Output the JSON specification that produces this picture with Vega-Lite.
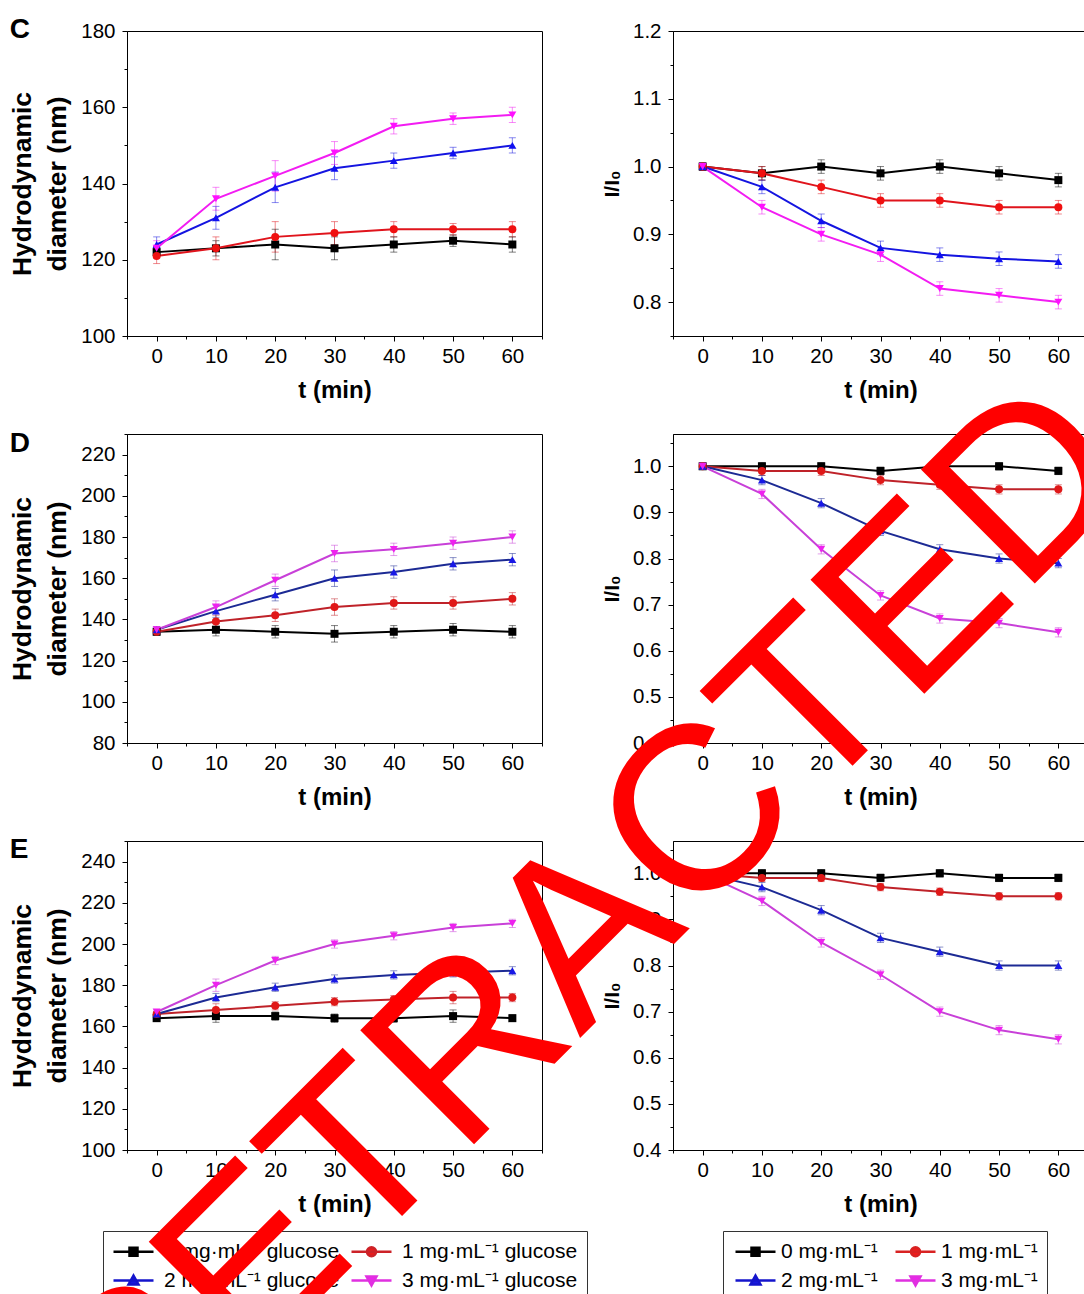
{
"$schema": "https://vega.github.io/schema/vega-lite/v6.json",
"padding": {"left": -4, "top": 15, "right": 0, "bottom": 0},
"background": "white",
"columns": 2,
"spacing": {"row": 98, "column": 131},
"bounds": "flush",
"resolve": {"scale": {"color": "independent", "fill": "independent", "stroke": "independent", "shape": "independent"}},
"datasets": {
"Cd": [
{"t":0,"s":"0","v":122,"e":1.5},{"t":10,"s":"0","v":123,"e":2},{"t":20,"s":"0","v":124,"e":4},{"t":30,"s":"0","v":123,"e":3},{"t":40,"s":"0","v":124,"e":2},{"t":50,"s":"0","v":125,"e":1.5},{"t":60,"s":"0","v":124,"e":2},
{"t":0,"s":"1","v":121,"e":2},{"t":10,"s":"1","v":123,"e":3},{"t":20,"s":"1","v":126,"e":4},{"t":30,"s":"1","v":127,"e":3},{"t":40,"s":"1","v":128,"e":2},{"t":50,"s":"1","v":128,"e":1.5},{"t":60,"s":"1","v":128,"e":2},
{"t":0,"s":"2","v":124,"e":2},{"t":10,"s":"2","v":131,"e":3},{"t":20,"s":"2","v":139,"e":4},{"t":30,"s":"2","v":144,"e":3},{"t":40,"s":"2","v":146,"e":2},{"t":50,"s":"2","v":148,"e":1.5},{"t":60,"s":"2","v":150,"e":2},
{"t":0,"s":"3","v":123,"e":2},{"t":10,"s":"3","v":136,"e":3},{"t":20,"s":"3","v":142,"e":4},{"t":30,"s":"3","v":148,"e":3},{"t":40,"s":"3","v":155,"e":2},{"t":50,"s":"3","v":157,"e":1.5},{"t":60,"s":"3","v":158,"e":2}
],
"Ci": [
{"t":0,"s":"0","v":1.0,"e":0.005},{"t":10,"s":"0","v":0.99,"e":0.01},{"t":20,"s":"0","v":1.0,"e":0.01},{"t":30,"s":"0","v":0.99,"e":0.01},{"t":40,"s":"0","v":1.0,"e":0.01},{"t":50,"s":"0","v":0.99,"e":0.01},{"t":60,"s":"0","v":0.98,"e":0.01},
{"t":0,"s":"1","v":1.0,"e":0.005},{"t":10,"s":"1","v":0.99,"e":0.01},{"t":20,"s":"1","v":0.97,"e":0.01},{"t":30,"s":"1","v":0.95,"e":0.01},{"t":40,"s":"1","v":0.95,"e":0.01},{"t":50,"s":"1","v":0.94,"e":0.01},{"t":60,"s":"1","v":0.94,"e":0.01},
{"t":0,"s":"2","v":1.0,"e":0.005},{"t":10,"s":"2","v":0.97,"e":0.01},{"t":20,"s":"2","v":0.92,"e":0.01},{"t":30,"s":"2","v":0.88,"e":0.01},{"t":40,"s":"2","v":0.87,"e":0.01},{"t":50,"s":"2","v":0.864,"e":0.01},{"t":60,"s":"2","v":0.86,"e":0.01},
{"t":0,"s":"3","v":1.0,"e":0.005},{"t":10,"s":"3","v":0.94,"e":0.01},{"t":20,"s":"3","v":0.90,"e":0.01},{"t":30,"s":"3","v":0.87,"e":0.01},{"t":40,"s":"3","v":0.82,"e":0.01},{"t":50,"s":"3","v":0.81,"e":0.01},{"t":60,"s":"3","v":0.80,"e":0.01}
],
"Dd": [
{"t":0,"s":"0","v":134,"e":1.5},{"t":10,"s":"0","v":135,"e":3},{"t":20,"s":"0","v":134,"e":3},{"t":30,"s":"0","v":133,"e":4},{"t":40,"s":"0","v":134,"e":3},{"t":50,"s":"0","v":135,"e":3},{"t":60,"s":"0","v":134,"e":3},
{"t":0,"s":"1","v":134,"e":1.5},{"t":10,"s":"1","v":139,"e":3},{"t":20,"s":"1","v":142,"e":3},{"t":30,"s":"1","v":146,"e":4},{"t":40,"s":"1","v":148,"e":3},{"t":50,"s":"1","v":148,"e":3},{"t":60,"s":"1","v":150,"e":3},
{"t":0,"s":"2","v":135,"e":1.5},{"t":10,"s":"2","v":144,"e":3},{"t":20,"s":"2","v":152,"e":3},{"t":30,"s":"2","v":160,"e":4},{"t":40,"s":"2","v":163,"e":3},{"t":50,"s":"2","v":167,"e":3},{"t":60,"s":"2","v":169,"e":3},
{"t":0,"s":"3","v":135,"e":1.5},{"t":10,"s":"3","v":146,"e":3},{"t":20,"s":"3","v":159,"e":3},{"t":30,"s":"3","v":172,"e":4},{"t":40,"s":"3","v":174,"e":3},{"t":50,"s":"3","v":177,"e":3},{"t":60,"s":"3","v":180,"e":3}
],
"Di": [
{"t":0,"s":"0","v":1.0,"e":0.005},{"t":10,"s":"0","v":1.0,"e":0.008},{"t":20,"s":"0","v":1.0,"e":0.008},{"t":30,"s":"0","v":0.99,"e":0.008},{"t":40,"s":"0","v":1.0,"e":0.008},{"t":50,"s":"0","v":1.0,"e":0.008},{"t":60,"s":"0","v":0.99,"e":0.008},
{"t":0,"s":"1","v":1.0,"e":0.005},{"t":10,"s":"1","v":0.99,"e":0.01},{"t":20,"s":"1","v":0.99,"e":0.01},{"t":30,"s":"1","v":0.97,"e":0.01},{"t":40,"s":"1","v":0.96,"e":0.01},{"t":50,"s":"1","v":0.95,"e":0.01},{"t":60,"s":"1","v":0.95,"e":0.01},
{"t":0,"s":"2","v":1.0,"e":0.005},{"t":10,"s":"2","v":0.97,"e":0.01},{"t":20,"s":"2","v":0.92,"e":0.01},{"t":30,"s":"2","v":0.86,"e":0.01},{"t":40,"s":"2","v":0.82,"e":0.01},{"t":50,"s":"2","v":0.80,"e":0.01},{"t":60,"s":"2","v":0.79,"e":0.01},
{"t":0,"s":"3","v":1.0,"e":0.005},{"t":10,"s":"3","v":0.94,"e":0.01},{"t":20,"s":"3","v":0.82,"e":0.01},{"t":30,"s":"3","v":0.72,"e":0.01},{"t":40,"s":"3","v":0.67,"e":0.01},{"t":50,"s":"3","v":0.66,"e":0.01},{"t":60,"s":"3","v":0.64,"e":0.01}
],
"Ed": [
{"t":0,"s":"0","v":164,"e":1},{"t":10,"s":"0","v":165,"e":3},{"t":20,"s":"0","v":165,"e":2},{"t":30,"s":"0","v":164,"e":2},{"t":40,"s":"0","v":164,"e":2},{"t":50,"s":"0","v":165,"e":3},{"t":60,"s":"0","v":164,"e":1.5},
{"t":0,"s":"1","v":166,"e":1},{"t":10,"s":"1","v":168,"e":3},{"t":20,"s":"1","v":170,"e":2},{"t":30,"s":"1","v":172,"e":2},{"t":40,"s":"1","v":173,"e":2},{"t":50,"s":"1","v":174,"e":3},{"t":60,"s":"1","v":174,"e":2},
{"t":0,"s":"2","v":166,"e":1},{"t":10,"s":"2","v":174,"e":2},{"t":20,"s":"2","v":179,"e":2},{"t":30,"s":"2","v":183,"e":2},{"t":40,"s":"2","v":185,"e":2},{"t":50,"s":"2","v":186,"e":2},{"t":60,"s":"2","v":187,"e":2},
{"t":0,"s":"3","v":167,"e":1},{"t":10,"s":"3","v":180,"e":3},{"t":20,"s":"3","v":192,"e":2},{"t":30,"s":"3","v":200,"e":2},{"t":40,"s":"3","v":204,"e":2},{"t":50,"s":"3","v":208,"e":2},{"t":60,"s":"3","v":210,"e":2}
],
"Ei": [
{"t":0,"s":"0","v":1.0,"e":0.005},{"t":10,"s":"0","v":1.0,"e":0.008},{"t":20,"s":"0","v":1.0,"e":0.008},{"t":30,"s":"0","v":0.99,"e":0.008},{"t":40,"s":"0","v":1.0,"e":0.008},{"t":50,"s":"0","v":0.99,"e":0.008},{"t":60,"s":"0","v":0.99,"e":0.008},
{"t":0,"s":"1","v":1.0,"e":0.005},{"t":10,"s":"1","v":0.99,"e":0.008},{"t":20,"s":"1","v":0.99,"e":0.008},{"t":30,"s":"1","v":0.97,"e":0.008},{"t":40,"s":"1","v":0.96,"e":0.008},{"t":50,"s":"1","v":0.95,"e":0.008},{"t":60,"s":"1","v":0.95,"e":0.008},
{"t":0,"s":"2","v":1.0,"e":0.005},{"t":10,"s":"2","v":0.97,"e":0.01},{"t":20,"s":"2","v":0.92,"e":0.01},{"t":30,"s":"2","v":0.86,"e":0.01},{"t":40,"s":"2","v":0.83,"e":0.01},{"t":50,"s":"2","v":0.80,"e":0.01},{"t":60,"s":"2","v":0.80,"e":0.01},
{"t":0,"s":"3","v":1.0,"e":0.005},{"t":10,"s":"3","v":0.94,"e":0.01},{"t":20,"s":"3","v":0.85,"e":0.01},{"t":30,"s":"3","v":0.78,"e":0.01},{"t":40,"s":"3","v":0.70,"e":0.01},{"t":50,"s":"3","v":0.66,"e":0.01},{"t":60,"s":"3","v":0.64,"e":0.01}
],
"wm": [{"x": -11.4, "y": 0.762, "label": "RETRACTED"}]
},
"concat": [
{
"width": 415, "height": 305,
"data": {"name": "Cd"},
"title": {"text": "C", "anchor": "start", "frame": "bounds", "fontSize": 28, "fontWeight": "bold", "offset": 0, "dy": 45, "baseline": "alphabetic"},
"encoding": {
"x": {"field": "t", "type": "quantitative", "scale": {"domain": [-5, 65], "nice": false, "zero": false}, "axis": {"title": "t (min)", "values": [-5,0,5,10,15,20,25,30,35,40,45,50,55,60,65], "labelExpr": "datum.value % 10 == 0 ? datum.label : ''", "tickSize": {"condition": {"test": "datum.value % 10 != 0", "value": 3}, "value": 5}, "labelPadding": 5, "titlePadding": 12}},
"y": {"field": "v", "type": "quantitative", "scale": {"domain": [100, 180], "nice": false, "zero": false}, "axis": {"title": ["Hydrodynamic", "diameter (nm)"], "titleFontSize": 26.5, "titleLineHeight": 35, "values": [100,110,120,130,140,150,160,170,180], "labelExpr": "datum.value % 20 == 0 ? datum.label : ''", "tickSize": {"condition": {"test": "datum.value % 20 != 0", "value": 3}, "value": 5}, "labelPadding": 7, "titlePadding": 9}}
},
"layer": [
{"mark": {"type": "errorbar", "ticks": true, "size": 7, "thickness": 1, "opacity": 0.5}, "encoding": {"yError": {"field": "e"}, "color": {"field": "s", "type": "nominal", "scale": {"domain": ["0","1","2","3"], "range": ["#000000", "#e0141c", "#1414e0", "#f21cf2"]}, "legend": null}}},
{"mark": {"type": "line", "strokeWidth": 2}, "encoding": {"stroke": {"field": "s", "type": "nominal", "scale": {"domain": ["0","1","2","3"], "range": ["#000000", "#e0141c", "#1414e0", "#f21cf2"]}, "legend": null}}},
{"mark": {"type": "point", "filled": true, "size": 64, "opacity": 1}, "encoding": {"fill": {"field": "s", "type": "nominal", "scale": {"domain": ["0","1","2","3"], "range": ["#000000", "#f01010", "#1010f0", "#ff10ff"]}, "legend": null}, "shape": {"field": "s", "type": "nominal", "scale": {"domain": ["0","1","2","3"], "range": ["square", "circle", "triangle-up", "triangle-down"]}, "legend": null}}}
]
},
{
"width": 415, "height": 305,
"data": {"name": "Ci"},
"encoding": {
"x": {"field": "t", "type": "quantitative", "scale": {"domain": [-5, 65], "nice": false, "zero": false}, "axis": {"title": "t (min)", "values": [-5,0,5,10,15,20,25,30,35,40,45,50,55,60,65], "labelExpr": "datum.value % 10 == 0 ? datum.label : ''", "tickSize": {"condition": {"test": "datum.value % 10 != 0", "value": 3}, "value": 5}, "labelPadding": 5, "titlePadding": 12}},
"y": {"field": "v", "type": "quantitative", "scale": {"domain": [0.75, 1.2], "nice": false, "zero": false}, "axis": {"title": "I/I₀", "titleFontSize": 21, "format": ".1f", "values": [0.75,0.8,0.85,0.9,0.95,1.0,1.05,1.1,1.15,1.2], "labelExpr": "round(datum.value*100) % 10 == 0 ? datum.label : ''", "tickSize": {"condition": {"test": "round(datum.value*100) % 10 != 0", "value": 3}, "value": 5}, "labelPadding": 7, "titlePadding": 10}}
},
"layer": [
{"mark": {"type": "errorbar", "ticks": true, "size": 7, "thickness": 1, "opacity": 0.5}, "encoding": {"yError": {"field": "e"}, "color": {"field": "s", "type": "nominal", "scale": {"domain": ["0","1","2","3"], "range": ["#000000", "#e0141c", "#1414e0", "#f21cf2"]}, "legend": null}}},
{"mark": {"type": "line", "strokeWidth": 2}, "encoding": {"stroke": {"field": "s", "type": "nominal", "scale": {"domain": ["0","1","2","3"], "range": ["#000000", "#e0141c", "#1414e0", "#f21cf2"]}, "legend": null}}},
{"mark": {"type": "point", "filled": true, "size": 64, "opacity": 1}, "encoding": {"fill": {"field": "s", "type": "nominal", "scale": {"domain": ["0","1","2","3"], "range": ["#000000", "#f01010", "#1010f0", "#ff10ff"]}, "legend": null}, "shape": {"field": "s", "type": "nominal", "scale": {"domain": ["0","1","2","3"], "range": ["square", "circle", "triangle-up", "triangle-down"]}, "legend": null}}}
]
},
{
"width": 415, "height": 309,
"data": {"name": "Dd"},
"title": {"text": "D", "anchor": "start", "frame": "bounds", "fontSize": 28, "fontWeight": "bold", "offset": 0, "dy": 56, "baseline": "alphabetic"},
"encoding": {
"x": {"field": "t", "type": "quantitative", "scale": {"domain": [-5, 65], "nice": false, "zero": false}, "axis": {"title": "t (min)", "values": [-5,0,5,10,15,20,25,30,35,40,45,50,55,60,65], "labelExpr": "datum.value % 10 == 0 ? datum.label : ''", "tickSize": {"condition": {"test": "datum.value % 10 != 0", "value": 3}, "value": 5}, "labelPadding": 5, "titlePadding": 12}},
"y": {"field": "v", "type": "quantitative", "scale": {"domain": [80, 230], "nice": false, "zero": false}, "axis": {"title": ["Hydrodynamic", "diameter (nm)"], "titleFontSize": 26.5, "titleLineHeight": 35, "values": [80,90,100,110,120,130,140,150,160,170,180,190,200,210,220,230], "labelExpr": "datum.value % 20 == 0 ? datum.label : ''", "tickSize": {"condition": {"test": "datum.value % 20 != 0", "value": 3}, "value": 5}, "labelPadding": 7, "titlePadding": 9}}
},
"layer": [
{"mark": {"type": "errorbar", "ticks": true, "size": 7, "thickness": 1, "opacity": 0.5}, "encoding": {"yError": {"field": "e"}, "color": {"field": "s", "type": "nominal", "scale": {"domain": ["0","1","2","3"], "range": ["#000000", "#bf2229", "#1c2a94", "#c840d8"]}, "legend": null}}},
{"mark": {"type": "line", "strokeWidth": 2}, "encoding": {"stroke": {"field": "s", "type": "nominal", "scale": {"domain": ["0","1","2","3"], "range": ["#000000", "#bf2229", "#1c2a94", "#c840d8"]}, "legend": null}}},
{"mark": {"type": "point", "filled": true, "size": 64, "opacity": 1}, "encoding": {"fill": {"field": "s", "type": "nominal", "scale": {"domain": ["0","1","2","3"], "range": ["#000000", "#e01818", "#1818e6", "#ee22ee"]}, "legend": null}, "shape": {"field": "s", "type": "nominal", "scale": {"domain": ["0","1","2","3"], "range": ["square", "circle", "triangle-up", "triangle-down"]}, "legend": null}}}
]
},
{
"width": 415, "height": 309,
"data": {"name": "Di"},
"encoding": {
"x": {"field": "t", "type": "quantitative", "scale": {"domain": [-5, 65], "nice": false, "zero": false}, "axis": {"title": "t (min)", "values": [-5,0,5,10,15,20,25,30,35,40,45,50,55,60,65], "labelExpr": "datum.value % 10 == 0 ? datum.label : ''", "tickSize": {"condition": {"test": "datum.value % 10 != 0", "value": 3}, "value": 5}, "labelPadding": 5, "titlePadding": 12}},
"y": {"field": "v", "type": "quantitative", "scale": {"domain": [0.4, 1.07], "nice": false, "zero": false}, "axis": {"title": "I/I₀", "titleFontSize": 21, "format": ".1f", "values": [0.4,0.45,0.5,0.55,0.6,0.65,0.7,0.75,0.8,0.85,0.9,0.95,1.0,1.05], "labelExpr": "round(datum.value*100) % 10 == 0 ? datum.label : ''", "tickSize": {"condition": {"test": "round(datum.value*100) % 10 != 0", "value": 3}, "value": 5}, "labelPadding": 7, "titlePadding": 10}}
},
"layer": [
{"mark": {"type": "errorbar", "ticks": true, "size": 7, "thickness": 1, "opacity": 0.5}, "encoding": {"yError": {"field": "e"}, "color": {"field": "s", "type": "nominal", "scale": {"domain": ["0","1","2","3"], "range": ["#000000", "#bf2229", "#1c2a94", "#c840d8"]}, "legend": null}}},
{"mark": {"type": "line", "strokeWidth": 2}, "encoding": {"stroke": {"field": "s", "type": "nominal", "scale": {"domain": ["0","1","2","3"], "range": ["#000000", "#bf2229", "#1c2a94", "#c840d8"]}, "legend": null}}},
{"mark": {"type": "point", "filled": true, "size": 64, "opacity": 1}, "encoding": {"fill": {"field": "s", "type": "nominal", "scale": {"domain": ["0","1","2","3"], "range": ["#000000", "#e01818", "#1818e6", "#ee22ee"]}, "legend": null}, "shape": {"field": "s", "type": "nominal", "scale": {"domain": ["0","1","2","3"], "range": ["square", "circle", "triangle-up", "triangle-down"]}, "legend": null}}}
]
},
{
"width": 415, "height": 309,
"data": {"name": "Ed"},
"title": {"text": "E", "anchor": "start", "frame": "bounds", "fontSize": 28, "fontWeight": "bold", "offset": 0, "dy": 55, "baseline": "alphabetic"},
"resolve": {"scale": {"color": "independent", "fill": "independent", "stroke": "independent", "shape": "independent"}},
"encoding": {
"x": {"field": "t", "type": "quantitative", "scale": {"domain": [-5, 65], "nice": false, "zero": false}, "axis": {"title": "t (min)", "values": [-5,0,5,10,15,20,25,30,35,40,45,50,55,60,65], "labelExpr": "datum.value % 10 == 0 ? datum.label : ''", "tickSize": {"condition": {"test": "datum.value % 10 != 0", "value": 3}, "value": 5}, "labelPadding": 5, "titlePadding": 12}},
"y": {"field": "v", "type": "quantitative", "scale": {"domain": [100, 250], "nice": false, "zero": false}, "axis": {"title": ["Hydrodynamic", "diameter (nm)"], "titleFontSize": 26.5, "titleLineHeight": 35, "values": [100,110,120,130,140,150,160,170,180,190,200,210,220,230,240,250], "labelExpr": "datum.value % 20 == 0 ? datum.label : ''", "tickSize": {"condition": {"test": "datum.value % 20 != 0", "value": 3}, "value": 5}, "labelPadding": 7, "titlePadding": 9}}
},
"layer": [
{"mark": {"type": "errorbar", "ticks": true, "size": 7, "thickness": 1, "opacity": 0.5}, "encoding": {"yError": {"field": "e"}, "color": {"field": "s", "type": "nominal", "scale": {"domain": ["0","1","2","3"], "range": ["#000000", "#bf2229", "#1c2a94", "#c840d8"]}, "legend": null}}},
{"mark": {"type": "line", "strokeWidth": 2}, "encoding": {"stroke": {"field": "s", "type": "nominal", "scale": {"domain": ["0","1","2","3"], "range": ["#000000", "#bf2229", "#1c2a94", "#c840d8"]}, "legend": null}}},
{"mark": {"type": "point", "filled": true, "size": 64, "opacity": 1}, "encoding": {"fill": {"field": "s", "type": "nominal", "scale": {"domain": ["0","1","2","3"], "range": ["#000000", "#e01818", "#1818e6", "#ee22ee"]}, "legend": null}, "shape": {"field": "s", "type": "nominal", "scale": {"domain": ["0","1","2","3"], "range": ["square", "circle", "triangle-up", "triangle-down"]}, "legend": null}}},
{"transform": [{"filter": "datum.t < 0"}], "mark": {"type": "point", "filled": true, "opacity": 1}, "encoding": {
"shape": {"field": "s", "type": "nominal", "scale": {"domain": ["0","1","2","3"], "range": ["M-2,0H2M-0.4,-0.4H0.4V0.4H-0.4Z", "M-2,0H2M-0.45,0A0.45,0.45,0,1,0,0.45,0A0.45,0.45,0,1,0,-0.45,0Z", "M-2,0H2M0,-0.5L0.5,0.4L-0.5,0.4Z", "M-2,0H2M0,0.5L0.5,-0.4L-0.5,-0.4Z"]}, "legend": {"orient": "none", "legendX": -24, "legendY": 390, "columns": 2, "direction": "horizontal", "title": null, "labelExpr": "datum.value + ' mg·mL⁻¹ glucose'", "labelFontSize": 21, "labelLimit": 0, "labelColor": "#000000", "symbolSize": 400, "symbolStrokeWidth": 2.5, "symbolOpacity": 1, "symbolOffset": 10, "labelOffset": 19, "padding": 9, "rowPadding": 7, "columnPadding": 6, "strokeColor": "#333333", "fillColor": "#ffffff"}},
"fill": {"field": "s", "type": "nominal", "scale": {"domain": ["0","1","2","3"], "range": ["#000000", "#e81c1c", "#1818e0", "#f020f0"]}, "legend": {"orient": "none", "legendX": -24, "legendY": 390, "columns": 2, "direction": "horizontal", "title": null, "labelExpr": "datum.value + ' mg·mL⁻¹ glucose'", "labelFontSize": 21, "labelLimit": 0, "labelColor": "#000000", "symbolSize": 400, "symbolStrokeWidth": 2.5, "symbolOpacity": 1, "symbolOffset": 10, "labelOffset": 19, "padding": 9, "rowPadding": 7, "columnPadding": 6, "strokeColor": "#333333", "fillColor": "#ffffff"}},
"stroke": {"field": "s", "type": "nominal", "scale": {"domain": ["0","1","2","3"], "range": ["#000000", "#cc2228", "#1414cc", "#e030e0"]}, "legend": {"orient": "none", "legendX": -24, "legendY": 390, "columns": 2, "direction": "horizontal", "title": null, "labelExpr": "datum.value + ' mg·mL⁻¹ glucose'", "labelFontSize": 21, "labelLimit": 0, "labelColor": "#000000", "symbolSize": 400, "symbolStrokeWidth": 2.5, "symbolOpacity": 1, "symbolOffset": 10, "labelOffset": 19, "padding": 9, "rowPadding": 7, "columnPadding": 6, "strokeColor": "#333333", "fillColor": "#ffffff"}}
}}
]
},
{
"width": 415, "height": 309,
"data": {"name": "Ei"},
"resolve": {"scale": {"color": "independent", "fill": "independent", "stroke": "independent", "shape": "independent"}},
"encoding": {
"x": {"field": "t", "type": "quantitative", "scale": {"domain": [-5, 65], "nice": false, "zero": false}, "axis": {"title": "t (min)", "values": [-5,0,5,10,15,20,25,30,35,40,45,50,55,60,65], "labelExpr": "datum.value % 10 == 0 ? datum.label : ''", "tickSize": {"condition": {"test": "datum.value % 10 != 0", "value": 3}, "value": 5}, "labelPadding": 5, "titlePadding": 12}},
"y": {"field": "v", "type": "quantitative", "scale": {"domain": [0.4, 1.07], "nice": false, "zero": false}, "axis": {"title": "I/I₀", "titleFontSize": 21, "format": ".1f", "values": [0.4,0.45,0.5,0.55,0.6,0.65,0.7,0.75,0.8,0.85,0.9,0.95,1.0,1.05], "labelExpr": "round(datum.value*100) % 10 == 0 ? datum.label : ''", "tickSize": {"condition": {"test": "round(datum.value*100) % 10 != 0", "value": 3}, "value": 5}, "labelPadding": 7, "titlePadding": 10}}
},
"layer": [
{"mark": {"type": "errorbar", "ticks": true, "size": 7, "thickness": 1, "opacity": 0.5}, "encoding": {"yError": {"field": "e"}, "color": {"field": "s", "type": "nominal", "scale": {"domain": ["0","1","2","3"], "range": ["#000000", "#bf2229", "#1c2a94", "#c840d8"]}, "legend": null}}},
{"mark": {"type": "line", "strokeWidth": 2}, "encoding": {"stroke": {"field": "s", "type": "nominal", "scale": {"domain": ["0","1","2","3"], "range": ["#000000", "#bf2229", "#1c2a94", "#c840d8"]}, "legend": null}}},
{"mark": {"type": "point", "filled": true, "size": 64, "opacity": 1}, "encoding": {"fill": {"field": "s", "type": "nominal", "scale": {"domain": ["0","1","2","3"], "range": ["#000000", "#e01818", "#1818e6", "#ee22ee"]}, "legend": null}, "shape": {"field": "s", "type": "nominal", "scale": {"domain": ["0","1","2","3"], "range": ["square", "circle", "triangle-up", "triangle-down"]}, "legend": null}}},
{"transform": [{"filter": "datum.t < 0"}], "mark": {"type": "point", "filled": true, "opacity": 1}, "encoding": {
"shape": {"field": "s", "type": "nominal", "scale": {"domain": ["0","1","2","3"], "range": ["M-2,0H2M-0.4,-0.4H0.4V0.4H-0.4Z", "M-2,0H2M-0.45,0A0.45,0.45,0,1,0,0.45,0A0.45,0.45,0,1,0,-0.45,0Z", "M-2,0H2M0,-0.5L0.5,0.4L-0.5,0.4Z", "M-2,0H2M0,0.5L0.5,-0.4L-0.5,-0.4Z"]}, "legend": {"orient": "none", "legendX": 50, "legendY": 390, "columns": 2, "direction": "horizontal", "title": null, "labelExpr": "datum.value + ' mg·mL⁻¹'", "labelFontSize": 21, "labelLimit": 0, "labelColor": "#000000", "symbolSize": 400, "symbolStrokeWidth": 2.5, "symbolOpacity": 1, "symbolOffset": 12, "labelOffset": 14, "padding": 9, "rowPadding": 7, "columnPadding": 12, "strokeColor": "#333333", "fillColor": "#ffffff"}},
"fill": {"field": "s", "type": "nominal", "scale": {"domain": ["0","1","2","3"], "range": ["#000000", "#ee1c1c", "#1818e0", "#f020f0"]}, "legend": {"orient": "none", "legendX": 50, "legendY": 390, "columns": 2, "direction": "horizontal", "title": null, "labelExpr": "datum.value + ' mg·mL⁻¹'", "labelFontSize": 21, "labelLimit": 0, "labelColor": "#000000", "symbolSize": 400, "symbolStrokeWidth": 2.5, "symbolOpacity": 1, "symbolOffset": 12, "labelOffset": 14, "padding": 9, "rowPadding": 7, "columnPadding": 12, "strokeColor": "#333333", "fillColor": "#ffffff"}},
"stroke": {"field": "s", "type": "nominal", "scale": {"domain": ["0","1","2","3"], "range": ["#000000", "#d82222", "#1414cc", "#e030e0"]}, "legend": {"orient": "none", "legendX": 50, "legendY": 390, "columns": 2, "direction": "horizontal", "title": null, "labelExpr": "datum.value + ' mg·mL⁻¹'", "labelFontSize": 21, "labelLimit": 0, "labelColor": "#000000", "symbolSize": 400, "symbolStrokeWidth": 2.5, "symbolOpacity": 1, "symbolOffset": 12, "labelOffset": 14, "padding": 9, "rowPadding": 7, "columnPadding": 12, "strokeColor": "#333333", "fillColor": "#ffffff"}}
}},
{"data": {"name": "wm"}, "mark": {"type": "text", "font": "Liberation Sans", "fontSize": 234, "angle": 315, "align": "center", "baseline": "alphabetic", "color": "#ff0000"}, "encoding": {"x": {"field": "x", "type": "quantitative", "title": "t (min)"}, "y": {"field": "y", "type": "quantitative", "title": "I/I₀"}, "text": {"field": "label"}}}
]
}
],
"config": {
"font": "Liberation Sans",
"view": {"stroke": "#000000", "strokeWidth": 1},
"axis": {"grid": false, "domainColor": "#000000", "domainWidth": 1, "tickColor": "#000000", "tickWidth": 1, "labelColor": "#000000", "labelFontSize": 20.5, "labelFont": "Liberation Sans", "titleColor": "#000000", "titleFontSize": 24, "titleFontWeight": "bold", "titleFont": "Liberation Sans", "labelOverlap": false, "labelFlush": false, "labelBound": false},
"title": {"color": "#000000", "font": "Liberation Sans"},
"legend": {"labelFont": "Liberation Sans"}
}
}
